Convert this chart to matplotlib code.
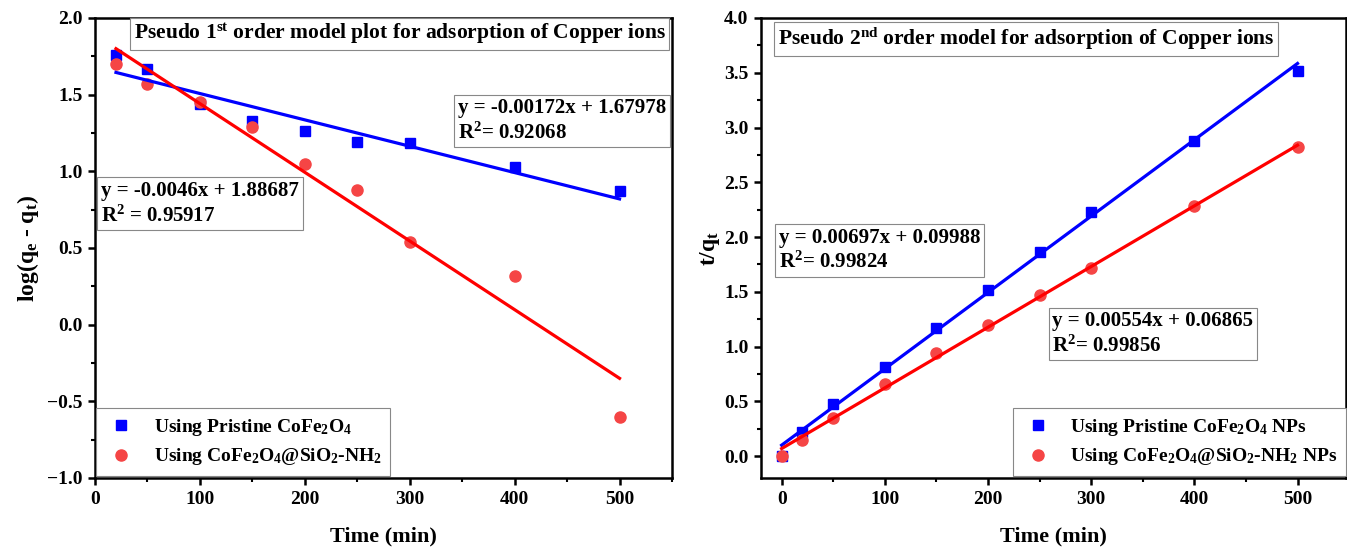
import numpy as np
import matplotlib
matplotlib.use("Agg")
from matplotlib import pyplot as plt
from matplotlib.ticker import MultipleLocator

plt.rcParams['font.family'] = ['Liberation Serif', 'DejaVu Serif']
plt.rcParams['font.weight'] = 'bold'
plt.rcParams['mathtext.fontset'] = 'custom'
plt.rcParams['mathtext.rm'] = 'Liberation Serif:bold'
plt.rcParams['mathtext.it'] = 'Liberation Serif:bold'
plt.rcParams['mathtext.bf'] = 'Liberation Serif:bold'
plt.rcParams['mathtext.default'] = 'rm'

# pseudo first order data
t1 = [20, 50, 100, 150, 200, 250, 300, 400, 500]
log_pristine = [1.76, 1.67, 1.44, 1.33, 1.26, 1.19, 1.185, 1.03, 0.87]
log_amine = [1.70, 1.57, 1.45, 1.29, 1.05, 0.88, 0.54, 0.32, -0.60]
fit1_x = [20, 500]
fit1_pristine = [1.645, 0.82]
fit1_amine = [1.80, -0.35]

# pseudo second order data
t2 = [0, 20, 50, 100, 150, 200, 250, 300, 400, 500]
tq_pristine = [0.0, 0.22, 0.48, 0.81, 1.17, 1.52, 1.86, 2.23, 2.88, 3.52]
tq_amine = [0.0, 0.15, 0.35, 0.66, 0.94, 1.20, 1.47, 1.72, 2.28, 2.82]
fit2_x = [0, 500]
fit2_pristine = [0.09988, 3.58488]
fit2_amine = [0.06865, 2.83865]

BLUE = '#0000FF'
RED_LINE = '#FF0000'
RED_DOT = '#F54545'


def style_axes(ax):
    for s in ax.spines.values():
        s.set_linewidth(1.8)
    ax.tick_params(which='major', direction='out', length=5, width=1.8, labelsize=14, pad=4)
    ax.tick_params(which='minor', direction='out', length=3, width=1.5)
    ax.xaxis.set_major_locator(MultipleLocator(100))
    ax.xaxis.set_minor_locator(MultipleLocator(50))
    ax.yaxis.set_major_locator(MultipleLocator(0.5))
    ax.yaxis.set_minor_locator(MultipleLocator(0.25))
    ax.set_xlabel("Time (min)", fontsize=16, fontweight='bold')
    ax.xaxis.set_label_coords(0.5, -0.105)


def box_text(ax, x, y, s, size=15):
    ax.text(x, y, s, transform=ax.transAxes, ha='center', va='center',
            multialignment='left', fontsize=size, fontweight='bold', linespacing=1.25,
            bbox=dict(boxstyle='square,pad=0.18', fc='white', ec='#888888', lw=0.8), zorder=5)


def add_legend(ax, anchor):
    leg = ax.legend(loc='lower left', bbox_to_anchor=anchor, fontsize=14, frameon=True,
                    fancybox=False, framealpha=1, borderaxespad=0.0, handlelength=1.7,
                    handletextpad=0.8, labelspacing=0.45, borderpad=0.45)
    leg.get_frame().set_edgecolor('#888888')
    leg.get_frame().set_linewidth(0.8)
    return leg


fig = plt.figure(figsize=(13.47, 5.49), dpi=100)
ax1 = fig.add_axes([95/1347, 71/549, 577/1347, 460/549])
ax2 = fig.add_axes([761/1347, 71/549, 585/1347, 460/549])

# left panel
ax1.plot(fit1_x, fit1_pristine, color=BLUE, lw=2.3, zorder=3)
ax1.plot(fit1_x, fit1_amine, color=RED_LINE, lw=2.3, zorder=3)
ax1.plot(t1, log_pristine, 's', color=BLUE, ms=7.5, ls='none', zorder=2,
         label="Using Pristine CoFe$_2$O$_4$")
ax1.plot(t1, log_amine, 'o', color=RED_DOT, ms=8, ls='none', zorder=2,
         label="Using CoFe$_2$O$_4$@SiO$_2$-NH$_2$")
ax1.set_xlim(0, 550)
ax1.set_ylim(-1.0, 2.0)
style_axes(ax1)
ax1.set_ylabel("log(q$_e$ - q$_t$)", fontsize=17, fontweight='bold')
ax1.yaxis.set_label_coords(-0.094, 0.5)
ax1.set_yticks(np.arange(-1.0, 2.01, 0.5))
ax1.set_yticklabels([f"{v:.1f}".replace('-', '\u2212') for v in np.arange(-1.0, 2.01, 0.5)])

box_text(ax1, 0.528, 0.965, "Pseudo 1$^{st}$ order model plot for adsorption of Copper ions", size=15.5)
box_text(ax1, 0.810, 0.776, "y = -0.00172x + 1.67978\nR$^2$= 0.92068")
box_text(ax1, 0.182, 0.596, "y = -0.0046x + 1.88687\nR$^2$ = 0.95917")
add_legend(ax1, (0.002, 0.004))

# right panel
ax2.plot(fit2_x, fit2_pristine, color=BLUE, lw=2.3, zorder=3)
ax2.plot(fit2_x, fit2_amine, color=RED_LINE, lw=2.3, zorder=3)
ax2.plot(t2, tq_pristine, 's', color=BLUE, ms=7.5, ls='none', zorder=2,
         label="Using Pristine CoFe$_2$O$_4$ NPs")
ax2.plot(t2, tq_amine, 'o', color=RED_DOT, ms=8, ls='none', zorder=2,
         label="Using CoFe$_2$O$_4$@SiO$_2$-NH$_2$ NPs")
ax2.set_xlim(-20, 547)
ax2.set_ylim(-0.2, 4.0)
style_axes(ax2)
ax2.set_ylabel("t/q$_t$", fontsize=17, fontweight='bold')
ax2.yaxis.set_label_coords(-0.067, 0.5)

box_text(ax2, 0.453, 0.955, "Pseudo 2$^{nd}$ order model for adsorption of Copper ions", size=15.5)
box_text(ax2, 0.203, 0.495, "y = 0.00697x + 0.09988\nR$^2$= 0.99824")
box_text(ax2, 0.670, 0.313, "y = 0.00554x + 0.06865\nR$^2$= 0.99856")
add_legend(ax2, (0.431, 0.004))

fig.savefig("out.png", dpi=100)
